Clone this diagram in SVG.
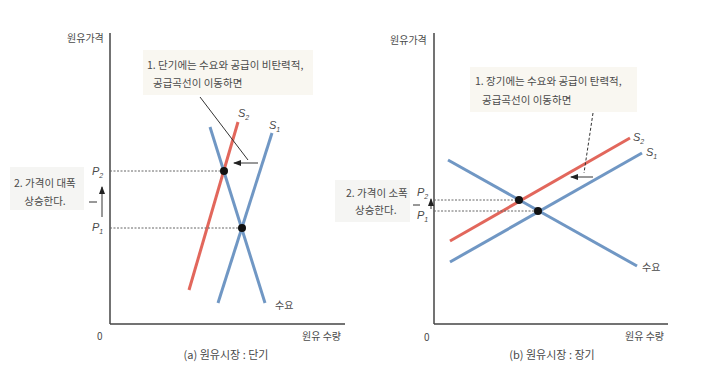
<svg xmlns="http://www.w3.org/2000/svg" width="720" height="383" viewBox="0 0 720 383">
<defs>
<style>
.t{font-family:"Noto Sans CJK KR","Noto Sans",sans-serif;font-size:10px;fill:#4a4a4a}
.c{font-size:10.5px}
.cap{font-size:11px}
.s{font-family:"Liberation Sans",sans-serif;font-style:italic;font-size:11px;fill:#4a4a4a}
.sub{font-size:7px}
.ax{stroke:#444;stroke-width:1.5;fill:none}
.blue{stroke:#7097c4;stroke-width:3;fill:none;stroke-linecap:butt}
.red{stroke:#e2675c;stroke-width:3;fill:none}
.dot{stroke:#666;stroke-width:1;stroke-dasharray:2 1.5;fill:none}
.lead{stroke:#333;stroke-width:1;fill:none}
.box{fill:#f9f7f1}
.box2{fill:#f5f5f3}
</style>
<marker id="ah" markerWidth="8" markerHeight="6" refX="7" refY="3" orient="auto" markerUnits="userSpaceOnUse">
<path d="M0,0 L8,3 L0,6 Z" fill="#222"/>
</marker>
</defs>
<rect width="720" height="383" fill="#fff"/>

<g id="panel-a">
<rect class="box" x="143" y="50" width="170" height="45"/>
<rect class="box2" x="10" y="167" width="74" height="43"/>
<line class="ax" x1="110" y1="33" x2="110" y2="324"/>
<line class="ax" x1="110" y1="324" x2="345" y2="324"/>
<text class="t" x="67" y="42">원유가격</text>
<text class="t" x="97" y="340">0</text>
<text class="t" x="302" y="340">원유 수량</text>
<text class="t cap" x="226" y="359" text-anchor="middle">(a) 원유시장 : 단기</text>
<text class="t c" x="147" y="69">1. 단기에는 수요와 공급이 비탄력적,</text>
<text class="t c" x="153" y="87">공급곡선이 이동하면</text>
<text class="t c" x="14" y="187">2. 가격이 대폭</text>
<text class="t c" x="45" y="205" text-anchor="middle">상승한다.</text>
</g>

<g id="panel-b">
<rect class="box" x="470" y="67" width="167" height="45"/>
<rect class="box2" x="335" y="180" width="75" height="42"/>
<line class="ax" x1="434" y1="33" x2="434" y2="324"/>
<line class="ax" x1="434" y1="324" x2="668" y2="324"/>
<text class="t" x="390" y="44">원유가격</text>
<text class="t" x="424" y="341">0</text>
<text class="t" x="625" y="340">원유 수량</text>
<text class="t cap" x="552" y="359" text-anchor="middle">(b) 원유시장 : 장기</text>
<text class="t c" x="475" y="85">1. 장기에는 수요와 공급이 탄력적,</text>
<text class="t c" x="482" y="104">공급곡선이 이동하면</text>
<text class="t c" x="346" y="197">2. 가격이 소폭</text>
<text class="t c" x="355" y="214">상승한다.</text>
</g>

<g id="curves-a">
<line class="red" x1="238" y1="122" x2="189" y2="290"/>
<line class="blue" x1="272" y1="133" x2="218" y2="303"/>
<line class="blue" x1="210" y1="127" x2="265" y2="303"/>
<text class="s" x="238" y="117">S<tspan class="sub" dy="3">2</tspan></text>
<text class="s" x="269" y="129">S<tspan class="sub" dy="3">1</tspan></text>
<text class="t" x="275" y="309">수요</text>
<circle cx="224" cy="171" r="4" fill="#111"/>
<circle cx="242" cy="228" r="4" fill="#111"/>
<text class="s" x="92" y="175">P<tspan class="sub" dy="3">2</tspan></text>
<text class="s" x="92" y="231">P<tspan class="sub" dy="3">1</tspan></text>
</g>

<g id="curves-b">
<line class="red" x1="450" y1="241" x2="630" y2="138"/>
<line class="blue" x1="450" y1="262" x2="642" y2="153"/>
<line class="blue" x1="448" y1="160" x2="637" y2="266"/>
<text class="s" x="633" y="141">S<tspan class="sub" dy="3">2</tspan></text>
<text class="s" x="646" y="156">S<tspan class="sub" dy="3">1</tspan></text>
<text class="t" x="642" y="271">수요</text>
<circle cx="519" cy="200" r="4" fill="#111"/>
<circle cx="538" cy="211" r="4" fill="#111"/>
<text class="s" x="417" y="196">P<tspan class="sub" dy="3">2</tspan></text>
<text class="s" x="417" y="219">P<tspan class="sub" dy="3">1</tspan></text>
</g>

<g id="connectors">
<line class="dot" x1="110" y1="171" x2="220" y2="171"/>
<line class="dot" x1="110" y1="228" x2="238" y2="228"/>
<line class="lead" x1="200" y1="97" x2="248" y2="160"/>
<line class="lead" x1="258" y1="163" x2="234" y2="163" stroke-width="1.5" marker-end="url(#ah)"/>
<line class="lead" x1="102" y1="217" x2="102" y2="187" marker-end="url(#ah)"/>
<line class="lead" x1="89" y1="202" x2="97" y2="202"/>
<line class="dot" x1="434" y1="200" x2="515" y2="200"/>
<line class="dot" x1="434" y1="211" x2="534" y2="211"/>
<line class="lead" x1="593" y1="113" x2="584" y2="173" stroke-dasharray="3 2"/>
<line class="lead" x1="593" y1="177" x2="571" y2="177" marker-end="url(#ah)"/>
<line class="lead" x1="431" y1="209" x2="431" y2="199" marker-end="url(#ah)"/>
<line class="lead" x1="413" y1="205" x2="420" y2="205"/>
</g>
</svg>
